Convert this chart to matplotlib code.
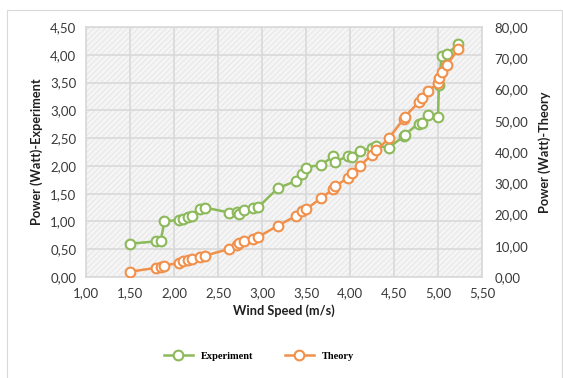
import matplotlib
matplotlib.use("Agg")
import matplotlib.pyplot as plt
from matplotlib.patches import Rectangle
from matplotlib.ticker import FuncFormatter, MultipleLocator

# measured points: wind speed vs power
wind_speed = [1.50, 1.79, 1.85, 1.89, 2.06, 2.10, 2.16, 2.21, 2.29, 2.35,
              2.63, 2.72, 2.74, 2.79, 2.90, 2.96, 3.18, 3.39, 3.45, 3.50,
              3.67, 3.81, 3.83, 3.98, 4.02, 4.11, 4.25, 4.30, 4.44, 4.61,
              4.62, 4.78, 4.82, 4.89, 5.00, 5.01, 5.04, 5.10, 5.23]
power_experiment = [0.60, 0.64, 0.65, 1.00, 1.03, 1.05, 1.08, 1.10, 1.22, 1.25,
                    1.16, 1.17, 1.13, 1.21, 1.25, 1.26, 1.60, 1.73, 1.86, 1.97,
                    2.02, 2.17, 2.07, 2.18, 2.16, 2.27, 2.32, 2.36, 2.33, 2.53,
                    2.56, 2.76, 2.77, 2.92, 2.88, 3.45, 3.98, 4.01, 4.19]
power_theory = [1.7, 2.9, 3.3, 3.6, 4.6, 5.1, 5.4, 5.8, 6.3, 6.8,
                9.0, 10.4, 10.8, 11.5, 12.3, 12.9, 16.4, 19.6, 21.0, 21.7,
                25.2, 28.2, 29.0, 31.8, 33.2, 35.5, 39.2, 40.5, 44.4, 50.6,
                51.2, 55.9, 57.2, 59.6, 62.0, 63.6, 65.7, 67.8, 73.0]

GREEN = "#8cb95a"
ORANGE = "#f0904a"
GRID = "#d9d9d9"
TXT = "#3a3a3a"

plt.rcParams["font.family"] = ["Lato", "DejaVu Sans"]
plt.rcParams["hatch.linewidth"] = 0.6


def comma_fmt(v, pos):
    return f"{v:.2f}".replace(".", ",")


fig = plt.figure(figsize=(5.63, 3.78), dpi=100)
fig.patches.append(Rectangle((7 / 563, -0.1), 555 / 563, 1 - 10 / 378 + 0.1,
                             transform=fig.transFigure, fill=False,
                             edgecolor="#d9d9d9", linewidth=0.8))

ax = fig.add_axes([86 / 563, 1 - 277 / 378, 396 / 563, 250 / 378])
ax.set_facecolor("#f5f5f5")
# fine diagonal shading inside the plot area
ax.add_patch(Rectangle((0, 0), 1, 1, transform=ax.transAxes, fill=False,
                       hatch="//////", edgecolor="#e4e4e4", linewidth=0,
                       zorder=0))

ax.set_xlim(1.0, 5.5)
ax.set_ylim(0, 4.5)
ax.xaxis.set_major_locator(MultipleLocator(0.5))
ax.yaxis.set_major_locator(MultipleLocator(0.5))
ax.xaxis.set_major_formatter(FuncFormatter(comma_fmt))
ax.yaxis.set_major_formatter(FuncFormatter(comma_fmt))
ax.grid(True, color=GRID, linewidth=1.2)
ax.set_axisbelow(True)
for s in ax.spines.values():
    s.set_color(GRID)
    s.set_linewidth(1.2)
ax.tick_params(length=0, labelsize=9.5, labelcolor=TXT, pad=7)

ax.plot(wind_speed, power_experiment, color=GREEN, linewidth=1.8,
        marker="o", markersize=7, markerfacecolor="white",
        markeredgecolor=GREEN, markeredgewidth=1.5, label="Experiment", zorder=3)

ax2 = ax.twinx()
ax2.set_ylim(0, 80)
ax2.yaxis.set_major_locator(MultipleLocator(10))
ax2.yaxis.set_major_formatter(FuncFormatter(comma_fmt))
ax2.tick_params(length=0, labelsize=9.5, labelcolor=TXT, pad=9)
for s in ax2.spines.values():
    s.set_visible(False)
ax2.plot(wind_speed, power_theory, color=ORANGE, linewidth=1.8,
         marker="o", markersize=7, markerfacecolor="white",
         markeredgecolor=ORANGE, markeredgewidth=1.5, label="Theory", zorder=3)

ax.set_xlabel("Wind Speed (m/s)", fontsize=9.2, fontweight="bold",
              color="#202020", labelpad=4)
ax.set_ylabel("Power (Watt)-Experiment", fontsize=9.2, fontweight="bold",
              color="#202020", labelpad=5)
ax2.set_ylabel("Power (Watt)-Theory", fontsize=9.2, fontweight="bold",
               color="#202020", labelpad=7)

h1, l1 = ax.get_legend_handles_labels()
h2, l2 = ax2.get_legend_handles_labels()
fig.legend(h1 + h2, l1 + l2, loc="center", bbox_to_anchor=(0.46, 1 - 356 / 378),
           ncol=2, frameon=False, columnspacing=3.0, handlelength=2.8,
           prop={"family": "Liberation Serif", "weight": "bold", "size": 7.5})

fig.savefig("out.png", dpi=100)
